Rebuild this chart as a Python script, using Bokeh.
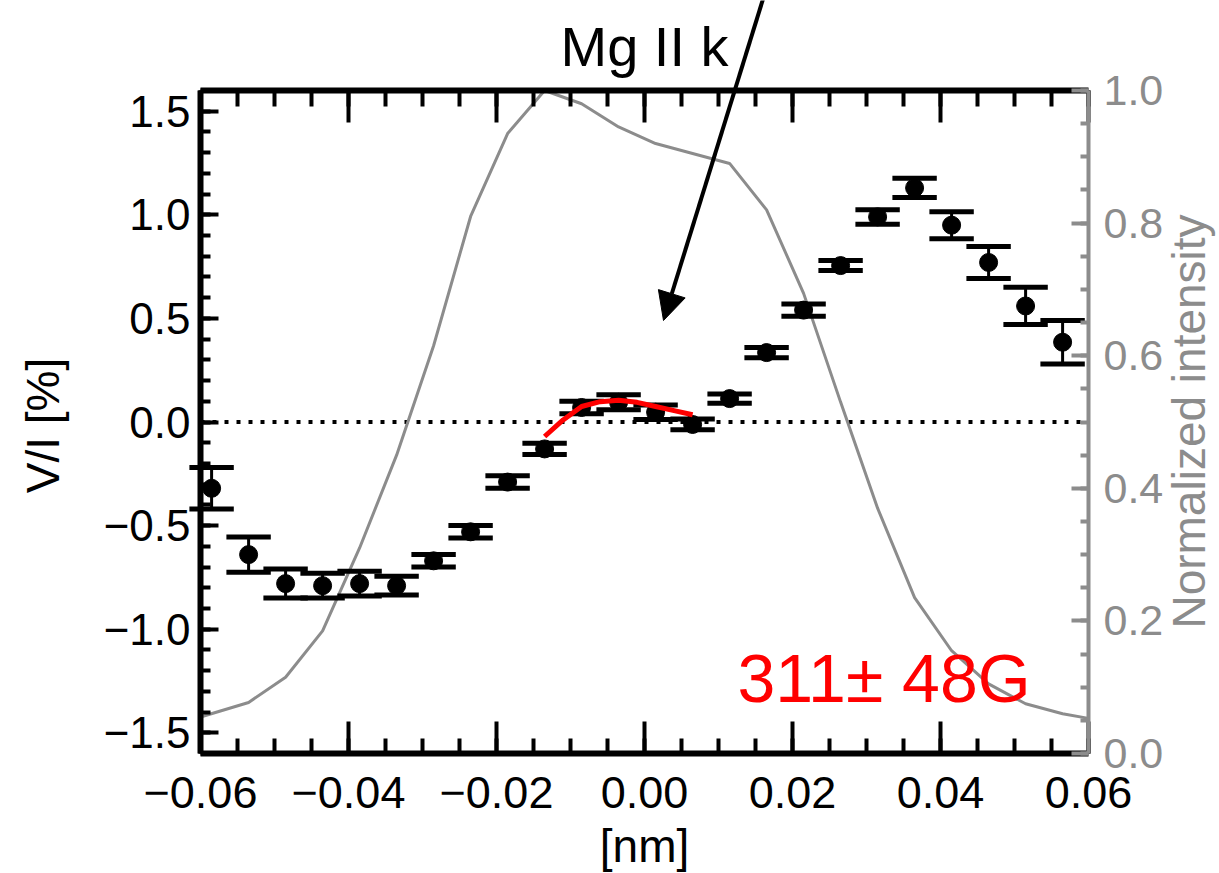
import math
from bokeh.plotting import figure
from bokeh.models import (Range1d, LinearAxis, SingleIntervalTicker, CustomJSTickFormatter,
                          Label, Arrow, NormalHead, ColumnDataSource)
from bokeh.embed import file_html
from bokeh.resources import INLINE

# Stokes V/I profile across the Mg II k line
wavelength = [-0.0585, -0.0535, -0.0485, -0.0435, -0.0385, -0.0335, -0.0285, -0.0235,
              -0.0185, -0.0135, -0.0085, -0.0035, 0.0015, 0.0065, 0.0115, 0.0165,
              0.0215, 0.0265, 0.0315, 0.0365, 0.0415, 0.0465, 0.0515, 0.0565]
v_over_i = [-0.32, -0.64, -0.78, -0.79, -0.78, -0.79, -0.67, -0.53,
            -0.29, -0.13, 0.07, 0.095, 0.047, -0.012, 0.113, 0.335,
            0.54, 0.755, 0.99, 1.13, 0.95, 0.77, 0.56, 0.385]
v_err = [0.10, 0.085, 0.07, 0.06, 0.06, 0.045, 0.03, 0.03,
         0.03, 0.027, 0.03, 0.036, 0.035, 0.026, 0.022, 0.025,
         0.03, 0.024, 0.035, 0.046, 0.065, 0.077, 0.09, 0.105]

# weak-field fit in the line core
fit_wavelength = [-0.0135, -0.011, -0.0085, -0.006, -0.0035, -0.001, 0.0015, 0.004, 0.0065]
fit_v = [-0.07, 0.01, 0.075, 0.098, 0.105, 0.095, 0.075, 0.055, 0.035]

# normalized intensity profile (right axis)
int_wavelength = [-0.06, -0.0535, -0.0485, -0.0435, -0.0385, -0.0335, -0.0285, -0.0235,
                  -0.0185, -0.0135, -0.0085, -0.0035, 0.0015, 0.0065, 0.0115, 0.0165,
                  0.0215, 0.0265, 0.0315, 0.0365, 0.0415, 0.0465, 0.0515, 0.0565, 0.06]
intensity = [0.055, 0.077, 0.115, 0.185, 0.31, 0.45, 0.615, 0.81,
             0.935, 1.0, 0.98, 0.945, 0.92, 0.905, 0.89, 0.82,
             0.694, 0.53, 0.37, 0.235, 0.155, 0.105, 0.075, 0.06, 0.053]

x_limits = (-0.06, 0.06)
y_limits = (-1.6, 1.6)
i_limits = (0.0, 1.0)

field_text = "311\u00b1 48G"
title_text = "Mg II k"
x_title = "[nm]"
y_title = "V/I [%]"
i_title = "Normalized intensity"

FONT = "Liberation Sans"
GRAY = "#8c8c8c"
CAP_HALF = 0.003

# canvas and the box in it that holds the axes (pixels)
W, H = 1219, 873
BOX_L, BOX_R, BOX_T, BOX_B = 200, 1088, 90, 753


def padded(lo, hi, before, after, span):
    """Extend a data range so that [lo, hi] fills `span` pixels with margins."""
    per_px = (hi - lo) / span
    return lo - before * per_px, hi + after * per_px


xr = padded(*x_limits, BOX_L, W - BOX_R, BOX_R - BOX_L)
yr = padded(*y_limits, H - BOX_B, BOX_T, BOX_B - BOX_T)
ir = padded(*i_limits, H - BOX_B, BOX_T, BOX_B - BOX_T)
x_per_px = (x_limits[1] - x_limits[0]) / (BOX_R - BOX_L)
y_per_px = (y_limits[1] - y_limits[0]) / (BOX_B - BOX_T)


def px_to_x(px):
    return xr[0] + px * x_per_px


def px_to_y(py):
    return yr[1] - py * y_per_px


p = figure(width=W, height=H, x_range=Range1d(*xr), y_range=Range1d(*yr),
           output_backend="svg", toolbar_location=None,
           min_border_left=0, min_border_right=0, min_border_top=0, min_border_bottom=0,
           x_axis_location=None, y_axis_location=None)
p.extra_y_ranges = {"intensity": Range1d(*ir)}
p.outline_line_color = None
p.xgrid.visible = False
p.ygrid.visible = False
p.background_fill_color = "white"
p.border_fill_color = "white"

fmt2 = CustomJSTickFormatter(code="""
    const a = Math.abs(tick) < 1e-9 ? 0 : tick;
    return (a < 0 ? "\\u2212" : "") + Math.abs(a).toFixed(2);
""")
fmt1 = CustomJSTickFormatter(code="""
    const a = Math.abs(tick) < 1e-9 ? 0 : tick;
    return (a < 0 ? "\\u2212" : "") + Math.abs(a).toFixed(1);
""")
blank = CustomJSTickFormatter(code="return '';")


def style_axis(ax, color, width, tick_in, minor_in, font_size):
    ax.axis_line_color = color
    ax.axis_line_width = width
    ax.major_tick_line_color = color
    ax.minor_tick_line_color = color
    ax.major_tick_line_width = 4
    ax.minor_tick_line_width = 4
    ax.major_tick_out = 0
    ax.minor_tick_out = 0
    ax.major_tick_in = tick_in
    ax.minor_tick_in = minor_in
    ax.major_label_text_font = FONT
    ax.major_label_text_font_size = font_size
    ax.major_label_text_color = color


xbot = LinearAxis(ticker=SingleIntervalTicker(interval=0.02, num_minor_ticks=4), formatter=fmt2,
                  fixed_location=y_limits[0], bounds=x_limits)
style_axis(xbot, "black", 6, 32, 15, "45px")
xbot.major_label_standoff = 23
p.add_layout(xbot, "below")

xtop = LinearAxis(ticker=SingleIntervalTicker(interval=0.02, num_minor_ticks=4), formatter=blank,
                  fixed_location=y_limits[1], bounds=x_limits)
style_axis(xtop, "black", 6, 32, 16, "0px")
xtop.major_label_standoff = 0
p.add_layout(xtop, "above")

yleft = LinearAxis(ticker=SingleIntervalTicker(interval=0.5, num_minor_ticks=5), formatter=fmt1,
                   fixed_location=x_limits[0], bounds=y_limits)
style_axis(yleft, "black", 6, 18, 10, "44px")
yleft.major_label_standoff = 10
p.add_layout(yleft, "left")

yright = LinearAxis(y_range_name="intensity",
                    ticker=SingleIntervalTicker(interval=0.2, num_minor_ticks=4), formatter=fmt1,
                    fixed_location=x_limits[1], bounds=i_limits)
style_axis(yright, GRAY, 4, 17, 8, "43px")
yright.major_label_standoff = 15
p.add_layout(yright, "right")

# zero reference
p.line(list(x_limits), [0, 0], line_color="black", line_width=4, line_dash="4 8")

# intensity profile
p.line(int_wavelength, intensity, y_range_name="intensity", line_color=GRAY, line_width=3)

# error bars
src = ColumnDataSource(dict(
    x=wavelength, y=v_over_i,
    lo=[v - e for v, e in zip(v_over_i, v_err)],
    hi=[v + e for v, e in zip(v_over_i, v_err)],
    x0=[w - CAP_HALF for w in wavelength],
    x1=[w + CAP_HALF for w in wavelength],
))
p.segment(x0="x", y0="lo", x1="x", y1="hi", source=src, line_color="black", line_width=3)
p.segment(x0="x0", y0="lo", x1="x1", y1="lo", source=src, line_color="black", line_width=5)
p.segment(x0="x0", y0="hi", x1="x1", y1="hi", source=src, line_color="black", line_width=5)
p.scatter(x="x", y="y", source=src, size=18, fill_color="black", line_color="black")

# fit
p.line(fit_wavelength, fit_v, line_color="red", line_width=5, line_join="round")

# texts
p.add_layout(Label(x=px_to_x(737), y=px_to_y(677), text=field_text, text_font=FONT,
                   text_font_size="68px", text_color="red", text_align="left",
                   text_baseline="middle"))
p.add_layout(Label(x=0.0, y=px_to_y(46), text=title_text, text_font=FONT, text_font_size="56px",
                   text_color="black", text_align="center", text_baseline="middle"))
p.add_layout(Label(x=0.0, y=px_to_y(845), text=x_title, text_font=FONT, text_font_size="46px",
                   text_color="black", text_align="center", text_baseline="middle"))
p.add_layout(Label(x=px_to_x(42), y=px_to_y(425), text=y_title, text_font=FONT,
                   text_font_size="46px", text_color="black", text_align="center",
                   text_baseline="middle", angle=math.pi / 2))
p.add_layout(Label(x=px_to_x(1188), y=px_to_y(421), text=i_title, text_font=FONT,
                   text_font_size="46px", text_color=GRAY, text_align="center",
                   text_baseline="middle", angle=math.pi / 2))

# pointer into the line core
p.add_layout(Arrow(end=NormalHead(size=28, fill_color="black", line_color="black"),
                   x_start=px_to_x(763), y_start=px_to_y(-3), x_end=px_to_x(663),
                   y_end=px_to_y(320), line_color="black", line_width=4))

open("out.html", "w").write(file_html(p, INLINE))
